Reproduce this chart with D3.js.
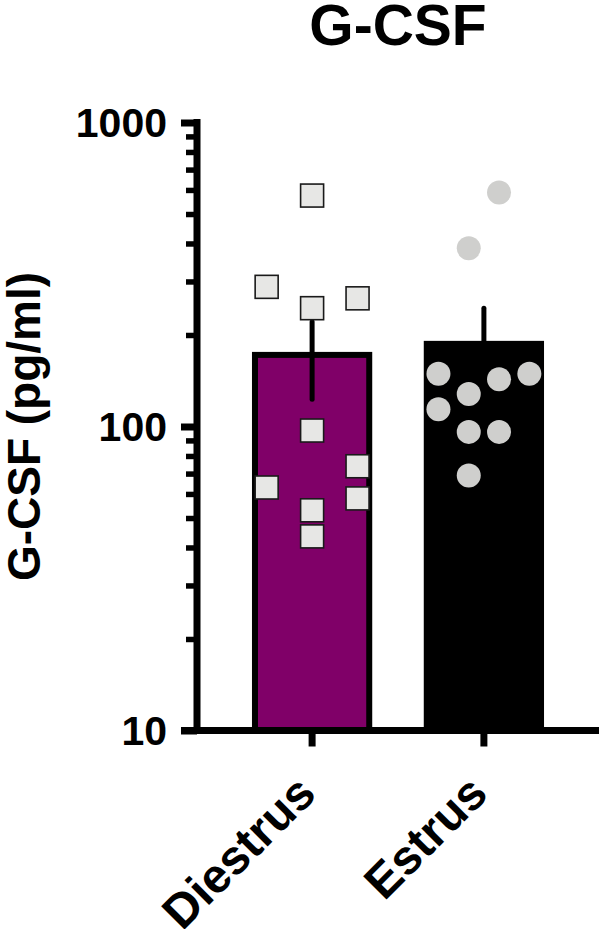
<!DOCTYPE html>
<html>
<head>
<meta charset="utf-8">
<script src="https://cdn.jsdelivr.net/npm/d3@7"></script>
<style>
  body { margin: 0; background: #fff; }
  text { font-family: "Liberation Sans", Arial, sans-serif; font-weight: bold; fill: #000; }
</style>
</head>
<body>
<div id="chart"></div>
<script>
// values
var groups = ["Diestrus", "Estrus"];
var means = [172, 187];
var sems = [49, 58];
var diestrusVals = [575, 288, 245, 264, 97, 63, 74, 58, 53, 43.5];
var diestrusSlots = [0, -1.5, 0, 1.5, 0, -1.5, 1.5, 1.5, 0, 0];
var estrusVals = [588, 386, 149, 143, 149, 128, 114, 96, 96, 69];
var estrusSlots = [0.5, -0.5, -1.5, 0.5, 1.5, -0.5, -1.5, -0.5, 0.5, -0.5];
var yTicks = [10, 100, 1000];

var margin = {top: 122.5, right: 1, bottom: 198.5, left: 197},
    width = 600 - margin.left - margin.right,
    height = 929 - margin.top - margin.bottom;

var svg = d3.select("#chart")
  .append("svg")
  .attr("width", 600)
  .attr("height", 929);

var g = svg.append("g")
  .attr("transform", "translate(" + margin.left + "," + margin.top + ")");

var x = d3.scaleBand()
  .domain(groups)
  .range([0, width])
  .paddingInner(0.3)
  .paddingOuter(0.32);

var y = d3.scaleLog()
  .domain([10, 1000])
  .range([height, 0]);

var slotW = 30.3;

// bars
g.selectAll(".bar")
  .data(groups)
  .enter()
  .append("rect")
  .attr("x", function(d) { return x(d) + 3; })
  .attr("width", x.bandwidth() - 6)
  .attr("y", function(d, i) { return y(means[i]); })
  .attr("height", function(d, i) { return height - y(means[i]); })
  .attr("fill", function(d, i) { return i == 0 ? "#800068" : "#000"; })
  .attr("stroke", "#000")
  .attr("stroke-width", 6);

// error bars
g.selectAll(".err")
  .data(groups)
  .enter()
  .append("line")
  .attr("x1", function(d) { return x(d) + x.bandwidth() / 2; })
  .attr("x2", function(d) { return x(d) + x.bandwidth() / 2; })
  .attr("y1", function(d, i) { return y(means[i] - sems[i]); })
  .attr("y2", function(d, i) { return y(means[i] + sems[i]); })
  .attr("stroke", "#000")
  .attr("stroke-width", 5)
  .attr("stroke-linecap", "round");

// points
var cD = x("Diestrus") + x.bandwidth() / 2;
var cE = x("Estrus") + x.bandwidth() / 2;

g.append("g")
  .selectAll("rect")
  .data(diestrusVals)
  .enter()
  .append("rect")
  .attr("x", function(d, i) { return cD + diestrusSlots[i] * slotW - 11.5; })
  .attr("y", function(d) { return y(d) - 11.5; })
  .attr("width", 23)
  .attr("height", 23)
  .attr("fill", "#e7e7e5")
  .attr("stroke", "#1a1a1a")
  .attr("stroke-width", 1.6);

g.append("g")
  .selectAll("circle")
  .data(estrusVals)
  .enter()
  .append("circle")
  .attr("cx", function(d, i) { return cE + estrusSlots[i] * slotW; })
  .attr("cy", function(d) { return y(d); })
  .attr("r", 12)
  .attr("fill", "#cfcfcd");

// y axis: minor ticks, then major ticks with labels
var minor = y.ticks().filter(function(t) { return yTicks.indexOf(t) < 0; });

var yMinor = g.append("g")
  .call(d3.axisLeft(y).tickValues(minor).tickSize(11).tickSizeOuter(0).tickFormat(""));
yMinor.select(".domain").remove();
yMinor.selectAll(".tick line").attr("stroke-width", 5.5).attr("x2", -11 + 0);

var yAxis = g.append("g")
  .call(d3.axisLeft(y).tickValues(yTicks).tickSize(16).tickSizeOuter(0).tickFormat(d3.format("d")).tickPadding(14));
yAxis.select(".domain").attr("stroke-width", 7).attr("d", "M0,-3.5V" + (height + 3.5));
yAxis.selectAll(".tick line").attr("stroke-width", 7);
yAxis.selectAll(".tick text")
  .attr("font-size", 41)
  .attr("dy", "0.33em")
  .style("font-family", "'Liberation Sans', Arial, sans-serif")
  .style("font-weight", "bold");

// x axis
var xAxis = g.append("g")
  .attr("transform", "translate(0," + height + ")")
  .call(d3.axisBottom(x).tickSize(16).tickSizeOuter(0).tickFormat(""));
xAxis.select(".domain").attr("stroke-width", 7).attr("d", "M-16,0H" + width);
xAxis.selectAll(".tick line").attr("stroke-width", 7);

g.selectAll(".xlab")
  .data(groups)
  .enter()
  .append("text")
  .attr("transform", function(d) {
    return "translate(" + (x(d) + x.bandwidth() / 2 + 6) + "," + (height + 65.5) + ") rotate(-45)";
  })
  .attr("text-anchor", "end")
  .attr("font-size", 48)
  .text(function(d) { return d; });

// title and y label
svg.append("text")
  .attr("x", margin.left + width / 2)
  .attr("y", 45)
  .attr("text-anchor", "middle")
  .attr("font-size", 57)
  .text("G-CSF");

svg.append("text")
  .attr("transform", "translate(40," + (margin.top + height / 2) + ") rotate(-90)")
  .attr("text-anchor", "middle")
  .attr("font-size", 46)
  .text("G-CSF (pg/ml)");
</script>
</body>
</html>
